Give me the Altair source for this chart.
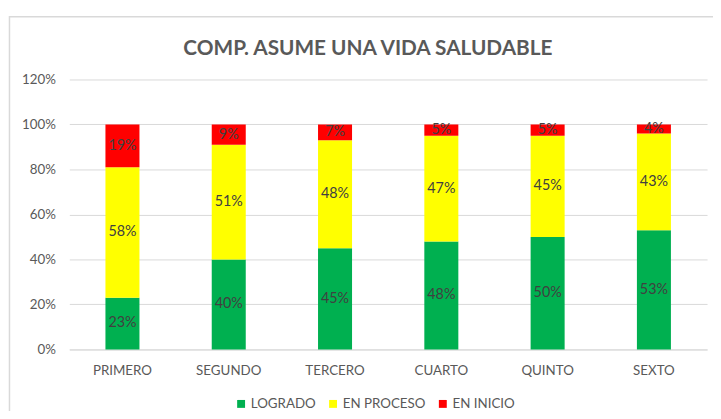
import altair as alt
import pandas as pd

grades = ["PRIMERO", "SEGUNDO", "TERCERO", "CUARTO", "QUINTO", "SEXTO"]
series = ["LOGRADO", "EN PROCESO", "EN INICIO"]
logrado = [23, 40, 45, 48, 50, 53]
en_proceso = [58, 51, 48, 47, 45, 43]
en_inicio = [19, 9, 7, 5, 5, 4]
colors = ["#00B050", "#FFFF00", "#FF0000"]
y_ticks = [0, 0.2, 0.4, 0.6, 0.8, 1.0, 1.2]
title_text = "COMP. ASUME UNA VIDA SALUDABLE"

rows = []
for vals, s, o in [(logrado, series[0], 0), (en_proceso, series[1], 1), (en_inicio, series[2], 2)]:
    for g, v in zip(grades, vals):
        rows.append({"grado": g, "serie": s, "orden": o, "valor": v / 100.0})
df = pd.DataFrame(rows)

FONT = "Lato"

base = alt.Chart(df).transform_stack(
    stack="valor", groupby=["grado"], as_=["y0", "y1"],
    sort=[alt.SortField("orden", order="ascending")]
)

x_enc = alt.X("grado:N", sort=grades, title=None,
              scale=alt.Scale(paddingInner=0.68, paddingOuter=0.34),
              axis=alt.Axis(labelAngle=0, labelFont=FONT, labelFontSize=13.5,
                            labelColor="#595959", domainColor="#d9d9d9",
                            ticks=False, labelPadding=14))

bars = base.mark_bar().encode(
    x=x_enc,
    y=alt.Y("y0:Q", title=None,
            scale=alt.Scale(domain=[0, 1.2], nice=False),
            axis=alt.Axis(values=y_ticks, format=".0%", labelFont=FONT,
                          labelFontSize=13.5, labelColor="#595959",
                          domain=False, ticks=False, labelPadding=14,
                          gridColor="#d9d9d9", gridWidth=1)),
    y2="y1:Q",
    color=alt.Color("serie:N", sort=series,
                    scale=alt.Scale(domain=series, range=colors),
                    legend=alt.Legend(title=None, orient="none", direction="horizontal",
                                      legendX=167, legendY=321,
                                      symbolType="square", symbolSize=64,
                                      symbolStrokeWidth=0,
                                      labelFont=FONT, labelFontSize=13.5,
                                      labelColor="#595959", columnPadding=10,
                                      symbolOffset=0, labelOffset=3)),
)

labels = base.transform_calculate(
    ymid="(datum.y0 + datum.y1) / 2",
    etiqueta="format(datum.valor, '.0%')"
).mark_text(font=FONT, fontSize=14.5, color="#404040", baseline="middle").encode(
    x=alt.X("grado:N", sort=grades),
    y=alt.Y("ymid:Q"),
    text="etiqueta:N",
)

one = pd.DataFrame({"t": [title_text]})

border = alt.Chart(one).mark_rect(
    fill=None, stroke="#d9d9d9", strokeWidth=1.5
).encode(x=alt.value(-60.5), x2=alt.value(720), y=alt.value(-63.5), y2=alt.value(400))

title = alt.Chart(one).mark_text(
    font=FONT, fontSize=21, fontWeight="bold", color="#595959",
    align="center", baseline="alphabetic"
).encode(x=alt.value(302), y=alt.value(-25), text="t:N")

chart = alt.layer(border, bars, labels, title).properties(
    width=645, height=273,
    padding={"left": 62, "top": 70, "right": 6, "bottom": 60},
    autosize=alt.AutoSizeParams(type="none"),
).configure_view(stroke=None)

chart.save("out.html", embed_options={"renderer": "svg", "actions": False})
